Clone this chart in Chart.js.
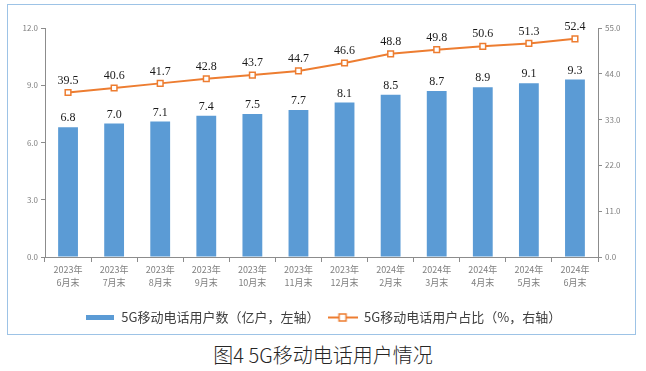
<!DOCTYPE html>
<html>
<head>
<meta charset="utf-8">
<script src="https://cdn.jsdelivr.net/npm/chart.js@4/dist/chart.umd.min.js"></script>
<style>
    body { margin: 0; background: #fff; width: 646px; height: 371px; position: relative; overflow: hidden; }
    #frame { position: absolute; left: 7px; top: 4px; width: 629px; height: 331px; border: 1px solid #9dc3e6; box-sizing: border-box; }
    #wrap { position: absolute; left: 0; top: 0; width: 646px; height: 334px; }
    #title { position: absolute; left: 0; top: 341px; width: 646px; text-align: center; font-family: "Noto Sans CJK SC", sans-serif; font-weight: 300; font-size: 20px; color: #262626; line-height: 28px; }
</style>
</head>
<body>
<div id="frame"></div>
<div id="wrap"><canvas id="chart"></canvas></div>
<div id="title">图4 5G移动电话用户情况</div>
<script>
// 数据
const months = [
    ["2023年", "6月末"], ["2023年", "7月末"], ["2023年", "8月末"], ["2023年", "9月末"],
    ["2023年", "10月末"], ["2023年", "11月末"], ["2023年", "12月末"], ["2024年", "2月末"],
    ["2024年", "3月末"], ["2024年", "4月末"], ["2024年", "5月末"], ["2024年", "6月末"]
];
const users = [6.8, 7.0, 7.1, 7.4, 7.5, 7.7, 8.1, 8.5, 8.7, 8.9, 9.1, 9.3];
const share = [39.5, 40.6, 41.7, 42.8, 43.7, 44.7, 46.6, 48.8, 49.8, 50.6, 51.3, 52.4];
const leftTicks = [0, 3, 6, 9, 12];
const rightTicks = [0, 11, 22, 33, 44, 55];

const blue = "#5b9bd5";
const orange = "#ed7d31";
const axisGray = "#8c8c8c";

// 图例小图标
function makeBarIcon() {
    const c = document.createElement("canvas");
    c.width = 28; c.height = 5;
    const g = c.getContext("2d");
    g.fillStyle = blue;
    g.fillRect(0, 0, 28, 5);
    return c;
}
function makeLineIcon() {
    const c = document.createElement("canvas");
    c.width = 30; c.height = 9;
    const g = c.getContext("2d");
    g.strokeStyle = orange;
    g.lineWidth = 2;
    g.beginPath(); g.moveTo(0, 4.5); g.lineTo(30, 4.5); g.stroke();
    g.fillStyle = "#fff";
    g.fillRect(11.5, 1, 7, 7);
    g.lineWidth = 1.5;
    g.strokeRect(11.5, 1, 7, 7);
    return c;
}

// 数据标签
const valueLabels = {
    id: "valueLabels",
    afterDatasetsDraw(chart) {
        const ctx = chart.ctx;
        ctx.save();
        ctx.font = "12px 'Liberation Serif', serif";
        ctx.fillStyle = "#1a1a1a";
        ctx.textAlign = "center";
        ctx.textBaseline = "middle";
        chart.data.datasets.forEach((ds, i) => {
            const meta = chart.getDatasetMeta(i);
            meta.data.forEach((el, j) => {
                const off = ds.type === "line" ? 12 : 9;
                ctx.fillText(ds.data[j].toFixed(1), el.x, el.y - off);
            });
        });
        ctx.restore();
    }
};

const tickFont = { family: "'Noto Sans CJK SC', sans-serif", size: 8 };
const xTickFont = { family: "'Noto Sans CJK SC', sans-serif", size: 9, lineHeight: 1.45 };

new Chart(document.getElementById("chart"), {
    data: {
        labels: months,
        datasets: [
            {
                type: "bar",
                label: "5G移动电话用户数（亿户，左轴）",
                data: users,
                backgroundColor: blue,
                yAxisID: "y",
                barPercentage: 0.43,
                categoryPercentage: 1
            },
            {
                type: "line",
                label: "5G移动电话用户占比（%，右轴）",
                data: share,
                borderColor: orange,
                borderWidth: 2,
                pointStyle: "rect",
                pointRadius: 4,
                pointBorderWidth: 1.5,
                pointBackgroundColor: "#fff",
                pointBorderColor: orange,
                yAxisID: "y1"
            }
        ]
    },
    options: {
        responsive: true,
        maintainAspectRatio: false,
        animation: false,
        layout: { padding: { top: 28, left: 0, right: 0, bottom: 0 } },
        plugins: {
            tooltip: { enabled: false },
            legend: {
                position: "bottom",
                labels: {
                    usePointStyle: true,
                    pointStyleWidth: 30,
                    padding: 8,
                    color: "#404040",
                    font: { family: "'Noto Sans CJK SC', sans-serif", size: 13 },
                    generateLabels(chart) {
                        const icons = [makeBarIcon(), makeLineIcon()];
                        return chart.data.datasets.map((ds, i) => ({
                            text: ds.label,
                            pointStyle: icons[i],
                            fillStyle: "transparent",
                            strokeStyle: "transparent",
                            lineWidth: 0,
                            datasetIndex: i,
                            fontColor: "#404040"
                        }));
                    }
                }
            }
        },
        scales: {
            x: {
                offset: true,
                grid: { offset: true, drawOnChartArea: false, tickLength: 5, color: axisGray },
                border: { color: axisGray },
                ticks: { color: "#7f7f7f", font: xTickFont, padding: 1, maxRotation: 0, autoSkip: false },
                afterFit(scale) { scale.height = 46; }
            },
            y: {
                position: "left",
                min: 0, max: 12,
                grid: { drawOnChartArea: false, tickLength: 4, color: axisGray },
                border: { color: axisGray },
                afterBuildTicks(scale) { scale.ticks = leftTicks.map(v => ({ value: v })); },
                ticks: { color: "#7f7f7f", font: tickFont, padding: 3, callback: v => v.toFixed(1) },
                afterFit(scale) { scale.width = 45; }
            },
            y1: {
                position: "right",
                min: 0, max: 55,
                grid: { drawOnChartArea: false, tickLength: 4, color: axisGray },
                border: { color: axisGray },
                afterBuildTicks(scale) { scale.ticks = rightTicks.map(v => ({ value: v })); },
                ticks: { color: "#7f7f7f", font: tickFont, padding: 3, callback: v => v.toFixed(1) },
                afterFit(scale) { scale.width = 48; }
            }
        }
    },
    plugins: [valueLabels]
});
</script>
</body>
</html>
